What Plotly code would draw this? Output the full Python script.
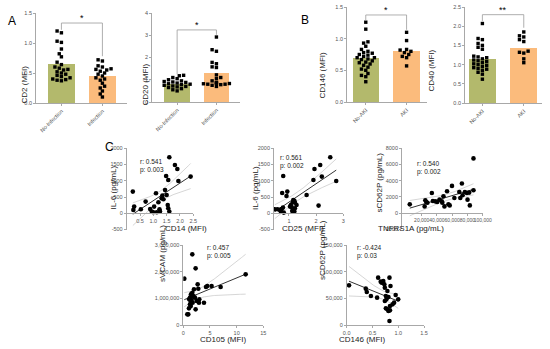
import numpy as np
import plotly.graph_objects as go

W, H = 550, 349

# ---------------- DATA ----------------
group_a = ["No-Infection", "Infection"]
group_b = ["No-AKI", "AKI"]

cd2_no_infection = [1.20, 1.17, 1.03, 1.01, 0.90, 0.82, 0.77, 0.68, 0.64, 0.60, 0.58, 0.56,
                    0.55, 0.52, 0.50, 0.48, 0.46, 0.44, 0.42, 0.40, 0.39, 0.38, 0.37]
cd2_infection = [0.72, 0.70, 0.62, 0.60, 0.57, 0.56, 0.55, 0.53, 0.50, 0.48, 0.45, 0.42,
                 0.40, 0.38, 0.33, 0.28, 0.25, 0.20, 0.15, 0.10]
cd2_means = [0.65, 0.45]

cd20_no_infection = [1.20, 1.18, 1.10, 1.05, 1.00, 0.95, 0.92, 0.90, 0.88, 0.85, 0.82, 0.80,
                     0.78, 0.75, 0.72, 0.70, 0.68, 0.65, 0.60, 0.55, 0.50]
cd20_infection = [2.92, 2.35, 2.28, 1.78, 1.72, 1.58, 1.55, 1.22, 1.10, 1.05, 0.95, 0.88,
                  0.85, 0.85, 0.83, 0.82, 0.80, 0.80, 0.78, 0.75, 0.70]
cd20_means = [0.82, 1.30]

cd146_no_aki = [1.26, 1.15, 0.95, 0.93, 0.88, 0.83, 0.80, 0.78, 0.77, 0.75, 0.74, 0.72,
                0.70, 0.70, 0.68, 0.67, 0.65, 0.63, 0.62, 0.60, 0.58, 0.55, 0.52, 0.50,
                0.45, 0.42, 0.40, 0.32]
cd146_aki = [1.10, 0.97, 0.83, 0.82, 0.80, 0.78, 0.75, 0.72, 0.70, 0.57]
cd146_means = [0.69, 0.81]

cd40_no_aki = [2.07, 1.68, 1.65, 1.55, 1.50, 1.45, 1.40, 1.22, 1.20, 1.18, 1.15, 1.12,
               1.10, 1.08, 1.05, 1.02, 1.00, 0.98, 0.95, 0.92, 0.90, 0.88, 0.85, 0.80,
               0.75, 0.62]
cd40_aki = [1.85, 1.75, 1.72, 1.65, 1.60, 1.35, 1.32, 1.30, 1.15, 1.05]
cd40_means = [1.14, 1.43]

cd14_mfi = [0.23, 0.28, 0.25, 0.53, 0.71, 0.88, 0.94, 1.00, 1.03, 1.10, 1.13, 1.19, 1.23,
            1.25, 1.31, 1.34, 1.38, 1.44, 1.50, 1.54, 1.56, 1.60, 1.48, 1.56, 1.60, 1.81,
            1.90, 1.94, 2.40]
il6_vs_cd14 = [667, 205, 103, 123, 359, 133, 51, 31, 205, 615, 31, 338, 123,
               51, 462, 544, 431, 718, 564, 256, 154, 51, 1149, 1026, 1723, 1488,
               1364, 995, 1128]

cd25_mfi = [0.48, 0.58, 0.67, 0.70, 0.73, 0.78, 0.81, 0.79, 0.75, 0.94, 0.91, 1.04, 1.07,
            1.10, 1.14, 1.16, 1.20, 1.22, 1.12, 1.20, 1.28, 1.22, 1.65, 1.94, 2.15, 2.21,
            1.90, 2.09, 2.52, 2.74]
il6_vs_cd25 = [123, 123, 103, 51, 133, 174, 20, 1149, 626, 667, 533, 205, 256,
               195, 338, 410, 380, 328, 72, 51, 256, 154, 564, 1364, 1488, 1128,
               1026, 236, 1723, 995]

tnfrs1a = [4300, 23800, 24700, 26000, 27500, 33300, 34600, 37700, 40300, 43300, 46300,
           48500, 47000, 49800, 53200, 55000, 56700, 59700, 62800, 69300, 70600, 72700,
           73600, 76600, 79200, 80100, 82300, 83100, 87900, 87900]
scd62p_vs_tnf = [1078, 829, 1575, 1368, 1285, 2487, 1492, 1450, 1368, 1658, 1450,
                 2072, 1285, 829, 2694, 1078, 953, 3357, 1865, 2611, 1865, 3648,
                 2197, 2611, 2487, 1658, 2529, 953, 2819, 6756]

cd105_mfi = [0.19, 1.69, 2.31, 0.75, 0.94, 1.06, 1.25, 1.38, 1.25, 1.44, 1.69, 1.88, 1.56,
             1.75, 2.00, 2.19, 2.31, 2.50, 2.69, 2.81, 2.94, 3.00, 3.88, 4.25, 4.50, 5.31,
             7.00, 11.69, 1.40, 1.10]
svcam = [1737500, 2650000, 2125000, 400000, 400000, 625000, 775000, 900000, 1025000,
         1150000, 1212000, 1087000, 937000, 837000, 1337000, 1025000, 587000, 900000,
         1525000, 1362000, 837000, 962000, 837000, 1425000, 1462000, 1462000, 1425000,
         1900000, 712000, 962000]

cd146_mfi = [0.045, 0.37, 0.39, 0.47, 0.59, 0.61, 0.66, 0.68, 0.71, 0.73, 0.74, 0.79, 0.76,
             0.74, 0.77, 0.81, 0.83, 0.85, 0.79, 0.81, 0.84, 0.76, 0.83, 0.84, 0.89, 0.92,
             0.95, 1.00]
scd62p_vs_cd146 = [74375, 68125, 61875, 54375, 51250, 88750, 81250, 79375, 82500, 76250,
                   70000, 63750, 54375, 45000, 48125, 52500, 88750, 73125, 29375, 26250,
                   27500, 31250, 7500, 35625, 38750, 41875, 56250, 48125]

stats_text = ["r: 0.541<br>p: 0.003", "r: 0.561<br>p: 0.002", "r: 0.540<br>p: 0.002",
              "r: 0.457<br>p: 0.005", "r: -0.424<br>p: 0.03"]

# ---------------- STYLE ----------------
GREEN = "#b3b96c"
ORANGE = "#fbbb7c"
AXC = "#a8a8a8"
TICKC = "#555555"
FONT = "Liberation Sans, Arial, sans-serif"


def px2x(p):
    return p / W


def px2y(p):
    return 1 - p / H


fig = go.Figure()
annotations = []
shapes = []


def swarm(vals, ppu_y, ppu_x, dot=3.6):
    placed = []
    res = [0.0] * len(vals)
    order = sorted(range(len(vals)), key=lambda i: vals[i])
    steps = [0, -1, 1, -2, 2, -3, 3, -4, 4, -5, 5, -6, 6]
    for i in order:
        y = vals[i] * ppu_y
        cand = 0.0
        for k in steps:
            c = k * dot * 0.6
            if all((c - px) ** 2 + (y - py) ** 2 >= dot ** 2 for px, py in placed):
                cand = c
                break
        placed.append((cand, y))
        res[i] = cand / ppu_x
    return res


def axis_name(i, kind):
    return kind + ("" if i == 1 else str(i))


COMMON = dict(showline=True, linecolor=AXC, linewidth=0.8, ticks="outside", ticklen=2,
              tickcolor=AXC, tickwidth=0.8, tickfont=dict(size=5.5, color=TICKC, family=FONT),
              showgrid=False, zeroline=False, automargin=False, fixedrange=True)

# ---------- bar panels ----------
bar_panels = [
    dict(i=1, g1=cd2_no_infection, g2=cd2_infection, means=cd2_means, cats=group_a,
         ytitle="CD2 (MFI)", xpx=(36, 127), ypx=(13, 103), yr=[0, 1.5],
         xr=[-0.62, 1.6], yt=[0, 0.5, 1.0, 1.5], ytt=["0.0", "0.5", "1.0", "1.5"],
         br=(1.333, 1.22, 0.78), star="*", stary=1.41, titlepx=(18, 64)),
    dict(i=2, g1=cd20_no_infection, g2=cd20_infection, means=cd20_means, cats=group_a,
         ytitle="CD20 (MFI)", xpx=(152, 240), ypx=(13, 102), yr=[0, 4],
         xr=[-0.64, 1.6], yt=[0, 1, 2, 3, 4], ytt=["0", "1", "2", "3", "4"],
         br=(3.24, 1.25, 3.02), star="*", stary=3.47, titlepx=(138, 62)),
    dict(i=3, g1=cd146_no_aki, g2=cd146_aki, means=cd146_means, cats=group_b,
         ytitle="CD146 (MFI)", xpx=(347, 427), ypx=(7, 102), yr=[0, 1.5],
         xr=[-0.46, 1.5], yt=[0, 0.5, 1.0, 1.5], ytt=["0.0", "0.5", "1.0", "1.5"],
         br=(1.374, 1.29, 1.14), star="*", stary=1.45, titlepx=(322, 50)),
    dict(i=4, g1=cd40_no_aki, g2=cd40_aki, means=cd40_means, cats=group_b,
         ytitle="CD40 (MFI)", xpx=(465, 542), ypx=(7, 103), yr=[0, 2.5],
         xr=[-0.42, 1.44], yt=[0, 0.5, 1.0, 1.5, 2.0, 2.5],
         ytt=["0.0", "0.5", "1.0", "1.5", "2.0", "2.5"],
         br=(2.30, 2.13, 1.96), star="**", stary=2.43, titlepx=(438, 48)),
]

layout_axes = {}
for p in bar_panels:
    i = p["i"]
    xa, ya = axis_name(i, "xaxis"), axis_name(i, "yaxis")
    xs, ys = axis_name(i, "x"), axis_name(i, "y")
    fig.add_trace(go.Bar(x=[0, 1], y=p["means"], marker=dict(color=[GREEN, ORANGE], line=dict(width=0)),
                         width=0.65, xaxis=xs, yaxis=ys, showlegend=False, hoverinfo="skip"))
    ppu_x = (p["xpx"][1] - p["xpx"][0]) / (p["xr"][1] - p["xr"][0])
    ppu_y = (p["ypx"][1] - p["ypx"][0]) / (p["yr"][1] - p["yr"][0])
    for k, g in enumerate([p["g1"], p["g2"]]):
        offs = swarm(g, ppu_y, ppu_x)
        fig.add_trace(go.Scatter(x=[k + o for o in offs], y=g, mode="markers",
                                 marker=dict(color="black", size=3.4, symbol="square"),
                                 xaxis=xs, yaxis=ys, showlegend=False, hoverinfo="skip"))
    layout_axes[xa] = dict(COMMON, domain=[px2x(p["xpx"][0]), px2x(p["xpx"][1])], range=p["xr"],
                           anchor=ys, tickvals=[0, 1], ticktext=p["cats"], tickangle=-45)
    layout_axes[ya] = dict(COMMON, domain=[px2y(p["ypx"][1]), px2y(p["ypx"][0])], range=p["yr"],
                           anchor=xs, tickvals=p["yt"], ticktext=p["ytt"])
    top, l_end, r_end = p["br"]
    for (x0, y0, x1, y1) in [(0, top, 1, top), (0, top, 0, l_end), (1, top, 1, r_end)]:
        shapes.append(dict(type="line", xref=xs, yref=ys, x0=x0, y0=y0, x1=x1, y1=y1,
                           line=dict(color="#9a9a9a", width=0.8)))
    annotations.append(dict(xref=xs, yref=ys, x=0.5, y=p["stary"], text=p["star"], showarrow=False,
                            font=dict(size=9, color="black", family=FONT)))
    annotations.append(dict(xref="paper", yref="paper", x=px2x(p["titlepx"][0]), y=px2y(p["titlepx"][1]),
                            text=p["ytitle"], textangle=-90, showarrow=False,
                            font=dict(size=8, color="#222", family=FONT)))

# ---------- scatter panels ----------
scatter_panels = [
    dict(i=5, x=cd14_mfi, y=il6_vs_cd14, xpx=(126.7, 193.3), ypx=(148.3, 229.5),
         xr=[0, 2.5], yr=[-500, 2000], xt=[0, 0.5, 1.0, 1.5, 2.0, 2.5],
         xtt=["", "0.5", "1.0", "1.5", "2.0", "2.5"], yt=[-500, 0, 500, 1000, 1500, 2000],
         ytt=["-500", "0", "500", "1000", "1500", "2000"], zero=True,
         xtitle="CD14 (MFI)", xtpx=(164, 228), ytitle="IL-6 (pg/mL)", ytpx=(107, 188),
         stpx=(138, 166), xfs=5.5),
    dict(i=6, x=cd25_mfi, y=il6_vs_cd25, xpx=(274, 343.3), ypx=(148.3, 229.5),
         xr=[0.45, 3], yr=[-500, 2000], xt=[1, 2, 3], xtt=["1", "2", "3"],
         yt=[-500, 0, 500, 1000, 1500, 2000], ytt=["-500", "0", "500", "1000", "1500", "2000"],
         zero=True, xtitle="CD25 (MFI)", xtpx=(303, 228), ytitle="IL-6 (pg/mL)", ytpx=(255, 188),
         stpx=(278, 162), xfs=5.5),
    dict(i=7, x=tnfrs1a, y=scd62p_vs_tnf, xpx=(402, 482.7), ypx=(148.3, 229.3),
         xr=[-5900, 100000], yr=[-2000, 8000], xt=[20000, 40000, 60000, 80000, 100000],
         xtt=["20,000", "40,000", "60,000", "80,000", "100,000"],
         yt=[-2000, 0, 2000, 4000, 6000, 8000], ytt=["-2000", "0", "2000", "4000", "6000", "8000"],
         zero=True, xtitle="TNFRS1A (pg/mL)", xtpx=(445, 228), ytitle="sCD62P (pg/mL)",
         ytpx=(385, 183), stpx=(415, 168), xfs=5.0),
    dict(i=8, x=cd105_mfi, y=svcam, xpx=(183.3, 263.3), ypx=(245, 325),
         xr=[0, 15], yr=[0, 3000000], xt=[0, 5, 10, 15], xtt=["0", "5", "10", "15"],
         yt=[0, 1000000, 2000000, 3000000], ytt=["0", "1,000,000", "2,000,000", "3,000,000"],
         zero=False, xtitle="CD105 (MFI)", xtpx=(223, 344.5), ytitle="sVCAM (pg/mL)",
         ytpx=(157, 283), stpx=(205, 262), xfs=5.5),
    dict(i=9, x=cd146_mfi, y=scd62p_vs_cd146, xpx=(346.7, 424), ypx=(245, 325),
         xr=[0, 1.5], yr=[0, 150000], xt=[0, 0.5, 1.0, 1.5], xtt=["0.0", "0.5", "1.0", "1.5"],
         yt=[0, 50000, 100000, 150000], ytt=["0", "50,000", "100,000", "150,000"],
         zero=False, xtitle="CD146 (MFI)", xtpx=(387, 344.5), ytitle="sCD62P (pg/mL)",
         ytpx=(322, 281), stpx=(355, 262), xfs=5.5),
]

for p, st in zip(scatter_panels, stats_text):
    i = p["i"]
    xa, ya = axis_name(i, "xaxis"), axis_name(i, "yaxis")
    xs, ys = axis_name(i, "x"), axis_name(i, "y")
    x = np.array(p["x"], float)
    y = np.array(p["y"], float)
    n = len(x)
    b, a = np.polyfit(x, y, 1)
    xx = np.linspace(x.min(), x.max(), 60)
    yy = a + b * xx
    resid = y - (a + b * x)
    s = np.sqrt(np.sum(resid ** 2) / (n - 2))
    sxx = np.sum((x - x.mean()) ** 2)
    se = s * np.sqrt(1.0 / n + (xx - x.mean()) ** 2 / sxx)
    t = 2.05
    for band in (yy + t * se, yy - t * se):
        fig.add_trace(go.Scatter(x=xx, y=band, mode="lines", line=dict(color="#c4c4c4", width=0.7),
                                 xaxis=xs, yaxis=ys, showlegend=False, hoverinfo="skip"))
    fig.add_trace(go.Scatter(x=xx, y=yy, mode="lines", line=dict(color="#333333", width=1),
                             xaxis=xs, yaxis=ys, showlegend=False, hoverinfo="skip"))
    fig.add_trace(go.Scatter(x=x, y=y, mode="markers", marker=dict(color="black", size=4.6),
                             xaxis=xs, yaxis=ys, showlegend=False, hoverinfo="skip"))
    ydom = [px2y(p["ypx"][1]), px2y(p["ypx"][0])]
    xdict = dict(COMMON, domain=[px2x(p["xpx"][0]), px2x(p["xpx"][1])], range=p["xr"],
                 tickvals=p["xt"], ticktext=p["xtt"], tickangle=0,
                 tickfont=dict(size=p["xfs"], color=TICKC, family=FONT))
    if p["zero"]:
        frac = (0 - p["yr"][0]) / (p["yr"][1] - p["yr"][0])
        xdict.update(anchor="free", position=ydom[0] + frac * (ydom[1] - ydom[0]))
    else:
        xdict.update(anchor=ys)
    layout_axes[xa] = xdict
    layout_axes[ya] = dict(COMMON, domain=ydom, range=p["yr"], anchor=xs,
                           tickvals=p["yt"], ticktext=p["ytt"])
    annotations.append(dict(xref="paper", yref="paper", x=px2x(p["xtpx"][0]), y=px2y(p["xtpx"][1]),
                            text=p["xtitle"], showarrow=False, borderpad=0,
                            font=dict(size=8, color="#222", family=FONT)))
    annotations.append(dict(xref="paper", yref="paper", x=px2x(p["ytpx"][0]), y=px2y(p["ytpx"][1]),
                            text=p["ytitle"], textangle=-90, showarrow=False, borderpad=0,
                            font=dict(size=8, color="#222", family=FONT)))
    annotations.append(dict(xref="paper", yref="paper", x=px2x(p["stpx"][0]), y=px2y(p["stpx"][1]),
                            text=st, showarrow=False, xanchor="left", align="left",
                            font=dict(size=6.5, color="#222", family=FONT)))

for letter, (lx, ly) in zip(["A", "B", "C"], [(6, 12), (305, 11), (103, 147)]):
    annotations.append(dict(xref="paper", yref="paper", x=px2x(lx), y=px2y(ly), text=letter,
                            showarrow=False, font=dict(size=12, color="black", family=FONT)))

fig.update_layout(template="none", width=W, height=H, margin=dict(l=0, r=0, t=0, b=0, pad=0),
                  paper_bgcolor="white", plot_bgcolor="rgba(0,0,0,0)",
                  font=dict(family=FONT), annotations=annotations, shapes=shapes,
                  bargap=0, **layout_axes)

fig.write_html("out.html", config={"displayModeBar": False},
               post_script="document.body.style.margin='0';document.body.style.overflow='hidden';")
